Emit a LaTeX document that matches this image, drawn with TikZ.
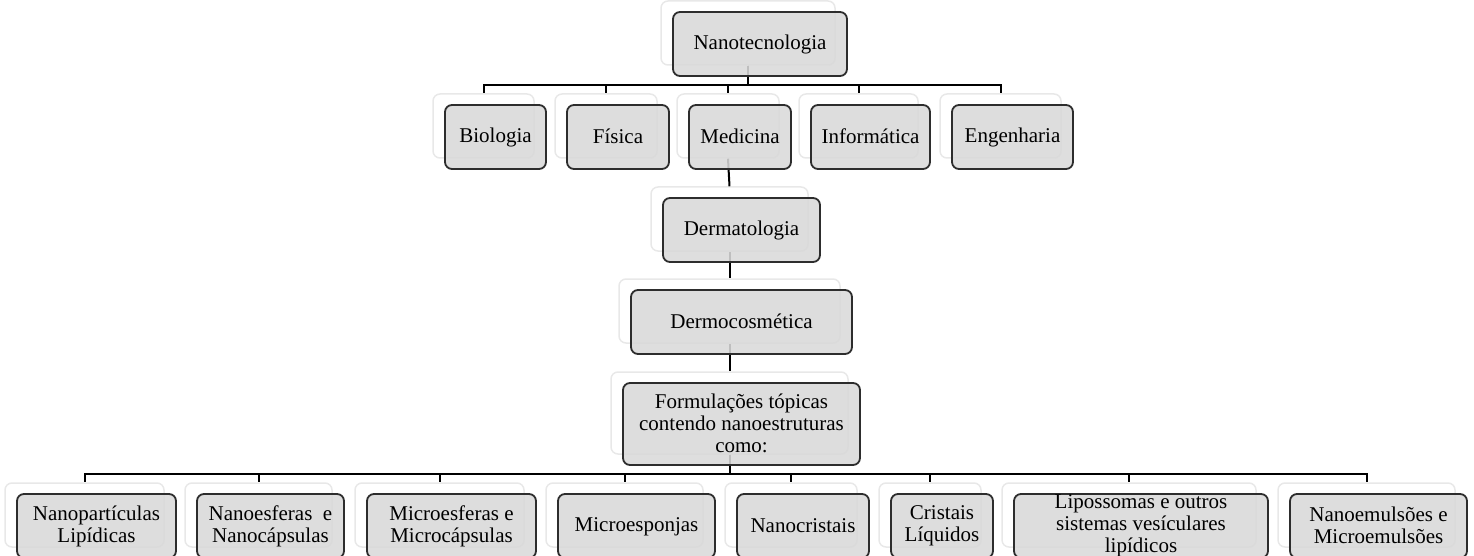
\documentclass[tikz,border=0pt]{standalone}
\usepackage{fontspec}
\setmainfont{Liberation Serif}
\usepackage{tikz}
\usetikzlibrary{positioning}
\definecolor{boxgray}{RGB}{217,217,217}
\definecolor{edgegray}{RGB}{45,45,45}
\newcommand{\boxstrut}{\rule[-2pt]{0pt}{17pt}}
\tikzset{
    back/.style={draw=black!9, line width=1.5pt, fill=white, rounded corners=7pt, inner sep=0pt},
    box/.style={draw=edgegray, line width=1.8pt, fill=boxgray, fill opacity=0.88, text opacity=1, draw opacity=1,
                rounded corners=7pt, inner sep=0pt, align=center, font=\fontsize{21}{22}\selectfont,
                execute at begin node=\boxstrut, execute at end node=\boxstrut},
    link/.style={draw=black, line width=2pt}
}

\begin{document}
\begin{tikzpicture}[x=1pt, y=-1pt]
    \useasboundingbox (0,0) rectangle (1474,556);
    % back boxes
    \foreach \n/\x/\y/\w/\h in {nano/748/33/174/64,
        bio/483.5/126/101/64, fis/606/126/102/64, med/728/126/102/64, inf/858.5/126/119/64, eng/1000.5/126/121/64,
        derm/729.5/219/157/64, dcos/729.5/311/221/64, form/729.5/413/237/82,
        np/84.5/515/159/64, nesf/258.5/515/147/64, mesf/439.5/515/169/64, mesp/624.5/515/157/64,
        ncri/791/515/132/64, cri/930/515/102/64, lip/1129/515/254/64, nem/1366.5/515/177/64}
        \node[back, minimum width=\w pt, minimum height=\h pt] (\n) at (\x,\y) {};

    % connectors
    \foreach \n in {bio,fis,med,inf,eng}
        \draw[link] (nano.south) -- ++(0,19) -| (\n.north);
    \draw[link] (med.south) -- (derm.north);
    \draw[link] (derm.south) -- (dcos.north);
    \draw[link] (dcos.south) -- (form.north);
    \foreach \n in {np,nesf,mesf,mesp,ncri,cri,lip,nem}
        \draw[link] (form.south) -- ++(0,19) -| (\n.north);

    % front boxes with the texts
    \foreach \n/\w/\h/\t in {nano/174/64/Nanotecnologia, bio/101/64/Biologia, fis/102/64/Física,
        med/102/64/Medicina, inf/119/64/Informática, eng/121/64/Engenharia,
        derm/157/64/Dermatologia, dcos/221/64/Dermocosmética,
        form/237/82/{Formulações tópicas\\contendo nanoestruturas\\como:},
        np/159/64/{Nanopartículas\\Lipídicas}, nesf/147/64/{Nanoesferas~ e\\Nanocápsulas},
        mesf/169/64/{Microesferas e\\Microcápsulas}, mesp/157/64/Microesponjas, ncri/132/64/Nanocristais,
        cri/102/64/{Cristais\\Líquidos}, lip/254/64/{Lipossomas e outros\\sistemas vesículares\\lipídicos},
        nem/177/64/{Nanoemulsões e\\Microemulsões}}
        \node[box, minimum width=\w pt, minimum height=\h pt, xshift=12pt, yshift=-11pt] (\n-f) at (\n) {\t};
\end{tikzpicture}
\end{document}
